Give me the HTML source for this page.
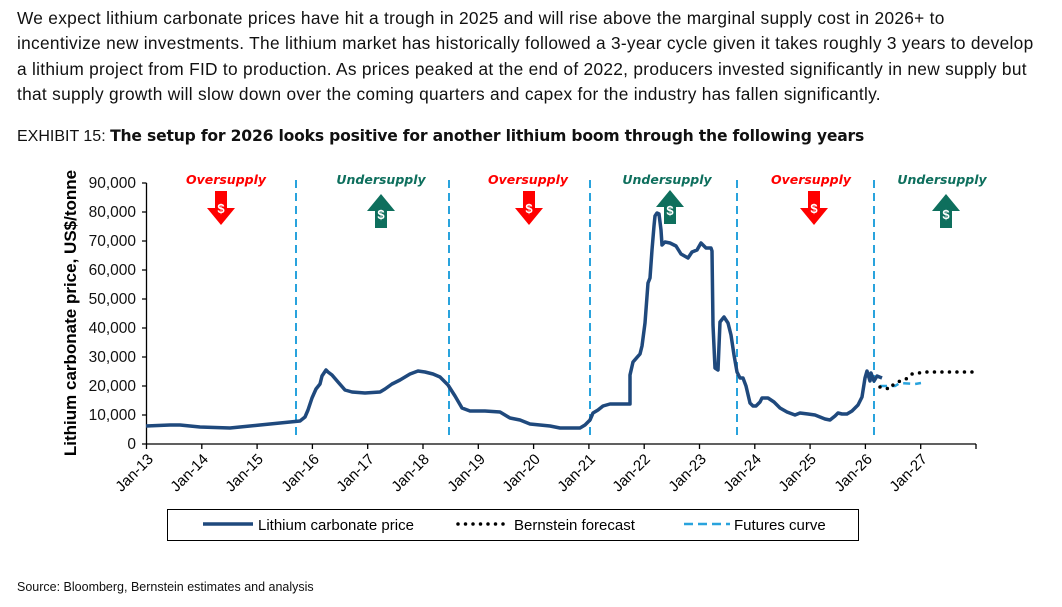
<!DOCTYPE html>
<html><head><meta charset="utf-8"><style>
body{margin:0;width:1062px;height:607px;background:#fff;position:relative;overflow:hidden;font-family:"Liberation Sans",Arial,sans-serif;color:#111}
.p{position:absolute;left:17px;top:6px;font-size:17.3px;line-height:25.3px;white-space:nowrap;letter-spacing:0.3px}
.t{position:absolute;left:17px;top:127px;font-size:16px;white-space:nowrap}
.t b{font-family:"DejaVu Sans",sans-serif;font-size:15.6px;letter-spacing:-0.2px}
.s{position:absolute;left:17px;top:580px;font-size:12.5px}
</style></head><body>
<div class="p">We expect lithium carbonate prices have hit a trough in 2025 and will rise above the marginal supply cost in 2026+ to<br>incentivize new investments. The lithium market has historically followed a 3-year cycle given it takes roughly 3 years to develop<br>a lithium project from FID to production. As prices peaked at the end of 2022, producers invested significantly in new supply but<br>that supply growth will slow down over the coming quarters and capex for the industry has fallen significantly.</div>
<div class="t">EXHIBIT 15: <b>The setup for 2026 looks positive for another lithium boom through the following years</b></div>
<svg width="1062" height="607" style="position:absolute;left:0;top:0" font-family="Liberation Sans,Arial,sans-serif">
<g stroke="#29a3dd" stroke-width="2" stroke-dasharray="8,5">
<line x1="296" y1="180" x2="296" y2="438"/><line x1="449" y1="180" x2="449" y2="438"/><line x1="590" y1="180" x2="590" y2="438"/><line x1="737" y1="180" x2="737" y2="438"/><line x1="874" y1="180" x2="874" y2="438"/>
</g>
<g stroke="#000" stroke-width="1.3"><line x1="146.5" y1="183" x2="146.5" y2="444"/><line x1="146.5" y1="444" x2="976" y2="444"/>
<path d="M142 444H146.5M142 415H146.5M142 386H146.5M142 357H146.5M142 328H146.5M142 299H146.5M142 270H146.5M142 241H146.5M142 212H146.5M142 183H146.5"/>
<path d="M146.5 444v5M201.8 444v5M257.1 444v5M312.4 444v5M367.7 444v5M423 444v5M478.3 444v5M533.6 444v5M588.9 444v5M644.2 444v5M699.5 444v5M754.8 444v5M810.1 444v5M865.4 444v5M920.7 444v5M976 444v5"/></g>
<g font-size="15.5" text-anchor="end" fill="#111">
<text x="136" y="449">0</text><text x="136" y="420">10,000</text><text x="136" y="391">20,000</text><text x="136" y="362">30,000</text><text x="136" y="333">40,000</text><text x="136" y="304">50,000</text><text x="136" y="275">60,000</text><text x="136" y="246">70,000</text><text x="136" y="217">80,000</text><text x="136" y="188">90,000</text></g>
<text transform="translate(76,313) rotate(-90)" text-anchor="middle" font-size="17" font-weight="bold">Lithium carbonate price, US$/tonne</text>
<g font-size="15" text-anchor="end">
<text transform="translate(154,460) rotate(-45)">Jan-13</text><text transform="translate(209,460) rotate(-45)">Jan-14</text><text transform="translate(264,460) rotate(-45)">Jan-15</text><text transform="translate(320,460) rotate(-45)">Jan-16</text><text transform="translate(375,460) rotate(-45)">Jan-17</text><text transform="translate(430,460) rotate(-45)">Jan-18</text><text transform="translate(486,460) rotate(-45)">Jan-19</text><text transform="translate(541,460) rotate(-45)">Jan-20</text><text transform="translate(596,460) rotate(-45)">Jan-21</text><text transform="translate(651,460) rotate(-45)">Jan-22</text><text transform="translate(707,460) rotate(-45)">Jan-23</text><text transform="translate(762,460) rotate(-45)">Jan-24</text><text transform="translate(817,460) rotate(-45)">Jan-25</text><text transform="translate(873,460) rotate(-45)">Jan-26</text><text transform="translate(928,460) rotate(-45)">Jan-27</text></g>
<polyline fill="none" stroke="#1f497d" stroke-width="3.5" stroke-linejoin="round" points="146,426 170,425 180,425 190,426 200,427 230,428 240,427 260,425 270,424 280,423 290,422 300,421 305,417 308,410 312,398 316,389 320,384 322,376 326,370 328,372 332,375 338,382 345,390 352,392 365,393 380,392 385,389 392,384 400,380 410,374 418,371 425,372 433,374 440,377 448,385 455,396 462,408 470,411 485,411 500,412 510,418 520,420 530,424 540,425 550,426 560,428 570,428 580,428 585,425 590,420 593,413 598,410 603,406 610,404 620,404 628,404 630,404 630,375 633,362 640,354 642,346 645,323 648,283 650,278 652,250 654,226 655,216 657,213 659,214 661,230 662,245 665,242 670,243 676,246 681,254 688,258 692,252 697,250 701,243 706,248 711,248 712,251 713,325 715,368 718,370 720,322 724,317 728,323 731,335 734,355 737,372 740,378 743,378 746,386 750,403 753,406 756,406 760,402 762,398 768,398 774,402 780,408 787,412 795,415 800,413 808,414 815,415 820,417 825,419 830,420 835,416 838,413 842,414 847,414 852,411 855,408 858,405 862,397 865,378 867,371 870,381 871,373 874,381 877,376 882,378"/>
<polyline fill="none" stroke="#29a3dd" stroke-width="2.5" stroke-dasharray="7,5" points="880,386 895,386 900,383 915,384 921,383"/>
<polyline fill="none" stroke="#000" stroke-width="3.5" stroke-linecap="round" stroke-dasharray="0,7.5" points="880,387 890,389 893,385 900,381 906,379 912,374 925,372 975,372"/>
<g font-size="12.5" font-style="italic" font-weight="bold" text-anchor="middle" font-family="DejaVu Sans,sans-serif">
<text x="226" y="184" fill="#f00">Oversupply</text><text x="381" y="184" fill="#0e6f5d">Undersupply</text><text x="528" y="184" fill="#f00">Oversupply</text><text x="667" y="184" fill="#0e6f5d">Undersupply</text><text x="811" y="184" fill="#f00">Oversupply</text><text x="942" y="184" fill="#0e6f5d">Undersupply</text></g>
<defs>
<g id="dn"><path d="M-6 0H6V17H14L0 34L-14 17H-6Z" fill="#f00"/><text y="22" text-anchor="middle" font-size="13" font-weight="bold" fill="#fff">$</text></g>
<g id="up"><path d="M-6 34H6V17H14L0 0L-14 17H-6Z" fill="#0e6f5d"/><text y="25" text-anchor="middle" font-size="13" font-weight="bold" fill="#fff">$</text></g>
</defs>
<use href="#dn" x="221" y="191"/><use href="#up" x="381" y="194"/><use href="#dn" x="529" y="191"/><use href="#up" x="670" y="190"/><use href="#dn" x="814" y="191"/><use href="#up" x="946" y="194"/>
<rect x="167.5" y="509.5" width="691" height="31" fill="none" stroke="#000" stroke-width="1"/>
<line x1="203" y1="524" x2="253" y2="524" stroke="#1f497d" stroke-width="3.5"/>
<text x="258" y="530" font-size="15">Lithium carbonate price</text>
<line x1="458" y1="524" x2="508" y2="524" stroke="#000" stroke-width="3.5" stroke-linecap="round" stroke-dasharray="0,7.5"/>
<text x="514" y="530" font-size="15">Bernstein forecast</text>
<line x1="684" y1="524" x2="730" y2="524" stroke="#29a3dd" stroke-width="2.5" stroke-dasharray="9,5"/>
<text x="734" y="530" font-size="15">Futures curve</text>
</svg>
<div class="s">Source: Bloomberg, Bernstein estimates and analysis</div>
</body></html>
